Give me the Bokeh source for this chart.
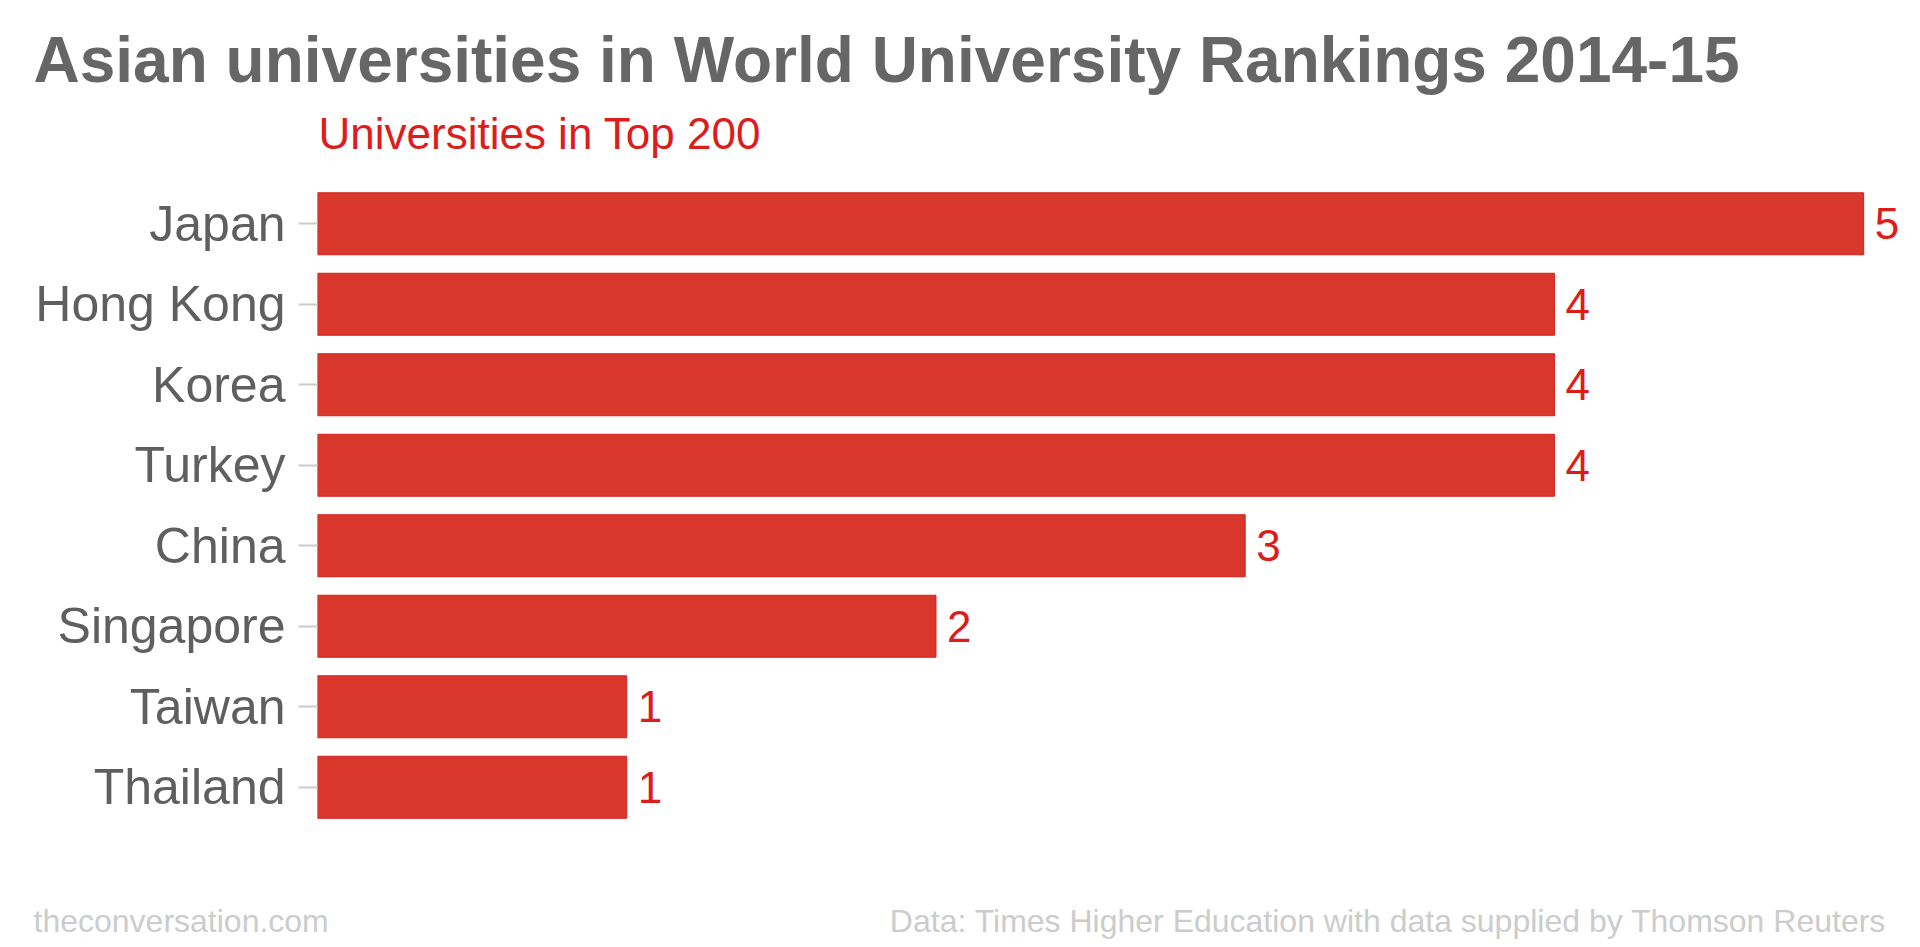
from bokeh.plotting import figure
from bokeh.models import FactorRange, Range1d, ColumnDataSource
from bokeh.layouts import column
from bokeh.core.properties import value
from bokeh.embed import file_html
from bokeh.resources import INLINE

countries = ["Japan", "Hong Kong", "Korea", "Turkey", "China", "Singapore", "Taiwan", "Thailand"]
counts = [5, 4, 4, 4, 3, 2, 1, 1]
value_labels = [str(c) for c in counts]

title_text = "Asian universities in World University Rankings 2014-15"
subtitle_text = "Universities in Top 200"
footer_left = "theconversation.com"
footer_right = "Data: Times Higher Education with data supplied by Thomson Reuters"

FONT = "Liberation Sans"
BAR_FILL = "#d9372b"
BAR_LINE = "#d42020"
RED_TEXT = "#dd1c1c"

W = 1920
TOP_H = 183
CHART_H = 644
BOT_H = 120


def blank(h):
    f = figure(width=W, height=h, x_range=Range1d(0, W), y_range=Range1d(0, h),
               output_backend="svg", toolbar_location=None, title=None,
               min_border=0, min_border_left=0, min_border_right=0,
               min_border_top=0, min_border_bottom=0, frame_align=False)
    f.axis.visible = False
    f.grid.visible = False
    f.outline_line_color = None
    f.background_fill_color = "white"
    f.border_fill_color = "white"
    return f


# header
top = blank(TOP_H)
top.text(x=[33], y=[TOP_H - 59], text=[title_text], text_font=value(FONT),
         text_font_size="64px", text_font_style="bold", text_color="#666666",
         text_baseline="alphabetic", text_align="left")
top.text(x=[318], y=[TOP_H - 133], text=[subtitle_text], text_font=value(FONT),
         text_font_size="44px", text_color=RED_TEXT,
         text_baseline="alphabetic", text_align="left")

# chart
src = ColumnDataSource(dict(country=countries, count=counts, lab=value_labels))
p = figure(
    width=W, height=CHART_H,
    y_range=FactorRange(factors=list(reversed(countries)), range_padding=0),
    x_range=Range1d(0, 5.158),
    output_backend="svg", toolbar_location=None, title=None,
    min_border_left=317, min_border_right=8, min_border_top=0, min_border_bottom=0,
    frame_align=False,
)
p.background_fill_color = "white"
p.border_fill_color = "white"
p.outline_line_color = None
p.xgrid.visible = False
p.ygrid.visible = False
p.xaxis.visible = False

p.hbar(y="country", right="count", left=0, height=0.77, source=src,
       fill_color=BAR_FILL, line_color=BAR_LINE, line_width=1)

p.text(x="count", y="country", text="lab", source=src,
       x_offset=11, text_baseline="middle", text_align="left",
       text_font=value(FONT), text_font_size="44px", text_color=RED_TEXT)

ax = p.yaxis[0]
ax.axis_line_color = None
ax.major_tick_line_color = "#cccccc"
ax.major_tick_line_width = 2
ax.major_tick_out = 19
ax.major_tick_in = 0
ax.minor_tick_line_color = None
ax.major_label_standoff = 13
ax.major_label_text_font = FONT
ax.major_label_text_font_size = "50px"
ax.major_label_text_color = "#5f5f5f"

# footer
bot = blank(BOT_H)
bot.text(x=[33], y=[BOT_H - 93], text=[footer_left], text_font=value(FONT),
         text_font_size="32px", text_color="#cccccc",
         text_baseline="alphabetic", text_align="left")
bot.text(x=[1886], y=[BOT_H - 93], text=[footer_right], text_font=value(FONT),
         text_font_size="32px", text_color="#cccccc",
         text_baseline="alphabetic", text_align="right")

layout = column(top, p, bot, spacing=0)
open("out.html", "w").write(file_html(layout, INLINE))
